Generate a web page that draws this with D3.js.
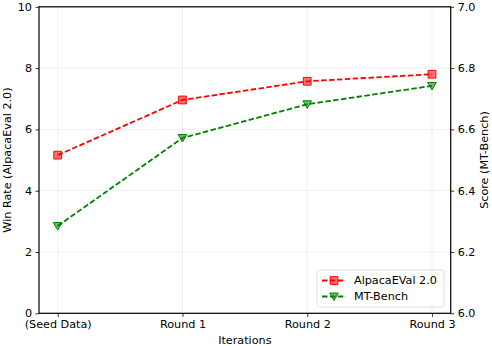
<!DOCTYPE html>
<html>
<head>
<meta charset="utf-8">
<script src="https://cdn.jsdelivr.net/npm/d3@7"></script>
<style>
  body { margin: 0; background: #fff; }
  text { font-family: "DejaVu Sans", sans-serif; }
</style>
</head>
<body>
<div id="chart"></div>
<script>
// rounds, scores
var rounds = ["(Seed Data)", "Round 1", "Round 2", "Round 3"];
var alpacaEval = [5.16, 6.96, 7.57, 7.80];
var mtBench = [6.285, 6.572, 6.682, 6.742];
var leftTicks = [0, 2, 4, 6, 8, 10];
var rightTicks = [6.0, 6.2, 6.4, 6.6, 6.8, 7.0];

var fs = 11.2;
var svg = d3.select("#chart").append("svg").attr("width", 492).attr("height", 346),
    margin = {top: 6.8, right: 41.3, bottom: 32.7, left: 39},
    width = 492 - margin.left - margin.right,
    height = 346 - margin.top - margin.bottom;

var x = d3.scaleLinear().domain([-0.15, rounds.length - 1 + 0.15]).range([0, width]),
    yL = d3.scaleLinear().domain([0, 10]).range([height, 0]),
    yR = d3.scaleLinear().domain([6, 7]).range([height, 0]);

var g = svg.append("g")
    .attr("transform", "translate(" + margin.left + "," + margin.top + ")");

// grid
g.append("g").selectAll("line").data(leftTicks).enter().append("line")
    .attr("x1", 0).attr("x2", width)
    .attr("y1", function(d) { return yL(d); }).attr("y2", function(d) { return yL(d); })
    .attr("stroke", "#ebebeb").attr("stroke-width", 0.8);
g.append("g").selectAll("line").data(rounds).enter().append("line")
    .attr("x1", function(d, i) { return x(i); }).attr("x2", function(d, i) { return x(i); })
    .attr("y1", 0).attr("y2", height)
    .attr("stroke", "#ebebeb").attr("stroke-width", 0.8);

// axes
var xAxis = g.append("g")
    .attr("transform", "translate(0," + height + ")")
    .call(d3.axisBottom(x).tickValues(d3.range(rounds.length))
        .tickFormat(function(i) { return rounds[i]; }).tickSize(3.5).tickPadding(3.5));
var leftAxis = g.append("g")
    .call(d3.axisLeft(yL).tickValues(leftTicks).tickFormat(d3.format("d")).tickSize(3.5).tickPadding(3.5));
var rightAxis = g.append("g")
    .attr("transform", "translate(" + width + ",0)")
    .call(d3.axisRight(yR).tickValues(rightTicks).tickFormat(d3.format(".1f")).tickSize(3.5).tickPadding(3.5));

[xAxis, leftAxis, rightAxis].forEach(function(a) {
    a.select(".domain").remove();
    a.selectAll("text").attr("font-size", fs).attr("fill", "#000")
        .style("font-family", "DejaVu Sans, sans-serif");
    a.selectAll(".tick line").attr("stroke", "#000").attr("stroke-width", 0.8);
});

// frame
g.append("rect").attr("width", width).attr("height", height)
    .attr("fill", "none").attr("stroke", "#000").attr("stroke-width", 1.2);

// labels
svg.append("text").attr("x", margin.left + width / 2).attr("y", 344)
    .attr("text-anchor", "middle").attr("font-size", fs).text("Iterations");
svg.append("text").attr("transform", "translate(11," + (margin.top + height / 2) + ") rotate(-90)")
    .attr("text-anchor", "middle").attr("font-size", fs).text("Win Rate (AlpacaEval 2.0)");
svg.append("text").attr("transform", "translate(488," + (margin.top + height / 2) + ") rotate(-90)")
    .attr("text-anchor", "middle").attr("font-size", fs).text("Score (MT-Bench)");

var square = d3.symbol().type(d3.symbolSquare).size(60);
var tri = function(s) {
    return "M" + (-s) + "," + (-s * 0.8) + "L" + s + "," + (-s * 0.8) + "L0," + (s * 0.95) + "Z";
};

function drawSeries(vals, yScale, color, marker) {
    var line = d3.line()
        .x(function(d, i) { return x(i); })
        .y(function(d) { return yScale(d); });
    g.append("path").datum(vals)
        .attr("d", line)
        .attr("fill", "none").attr("stroke", color)
        .attr("stroke-width", 1.8).attr("stroke-dasharray", "5.5,2.4");
    g.selectAll(".m" + color).data(vals).enter().append("path")
        .attr("transform", function(d, i) { return "translate(" + x(i) + "," + yScale(d) + ")"; })
        .attr("d", marker)
        .attr("fill", color).attr("fill-opacity", 0.55)
        .attr("stroke", color).attr("stroke-width", 1);
}
drawSeries(alpacaEval, yL, "red", square);
drawSeries(mtBench, yR, "green", tri(4.3));

// legend
var lg = svg.append("g").attr("transform", "translate(317,270)");
lg.append("rect").attr("width", 127).attr("height", 37).attr("rx", 2.5)
    .attr("fill", "#fff").attr("fill-opacity", 0.8).attr("stroke", "#d5d5d5").attr("stroke-width", 0.8);
var items = [["AlpacaEVal 2.0", "red", square], ["MT-Bench", "green", tri(4.3)]];
items.forEach(function(it, i) {
    var yy = 10.5 + i * 16;
    lg.append("line").attr("x1", 5).attr("x2", 29).attr("y1", yy).attr("y2", yy)
        .attr("stroke", it[1]).attr("stroke-width", 1.8).attr("stroke-dasharray", "5.5,2.4");
    lg.append("path").attr("transform", "translate(17," + yy + ")").attr("d", it[2])
        .attr("fill", it[1]).attr("fill-opacity", 0.55).attr("stroke", it[1]).attr("stroke-width", 1);
    lg.append("text").attr("x", 37).attr("y", yy).attr("dy", "0.35em")
        .attr("font-size", fs).text(it[0]);
});
</script>
</body>
</html>
